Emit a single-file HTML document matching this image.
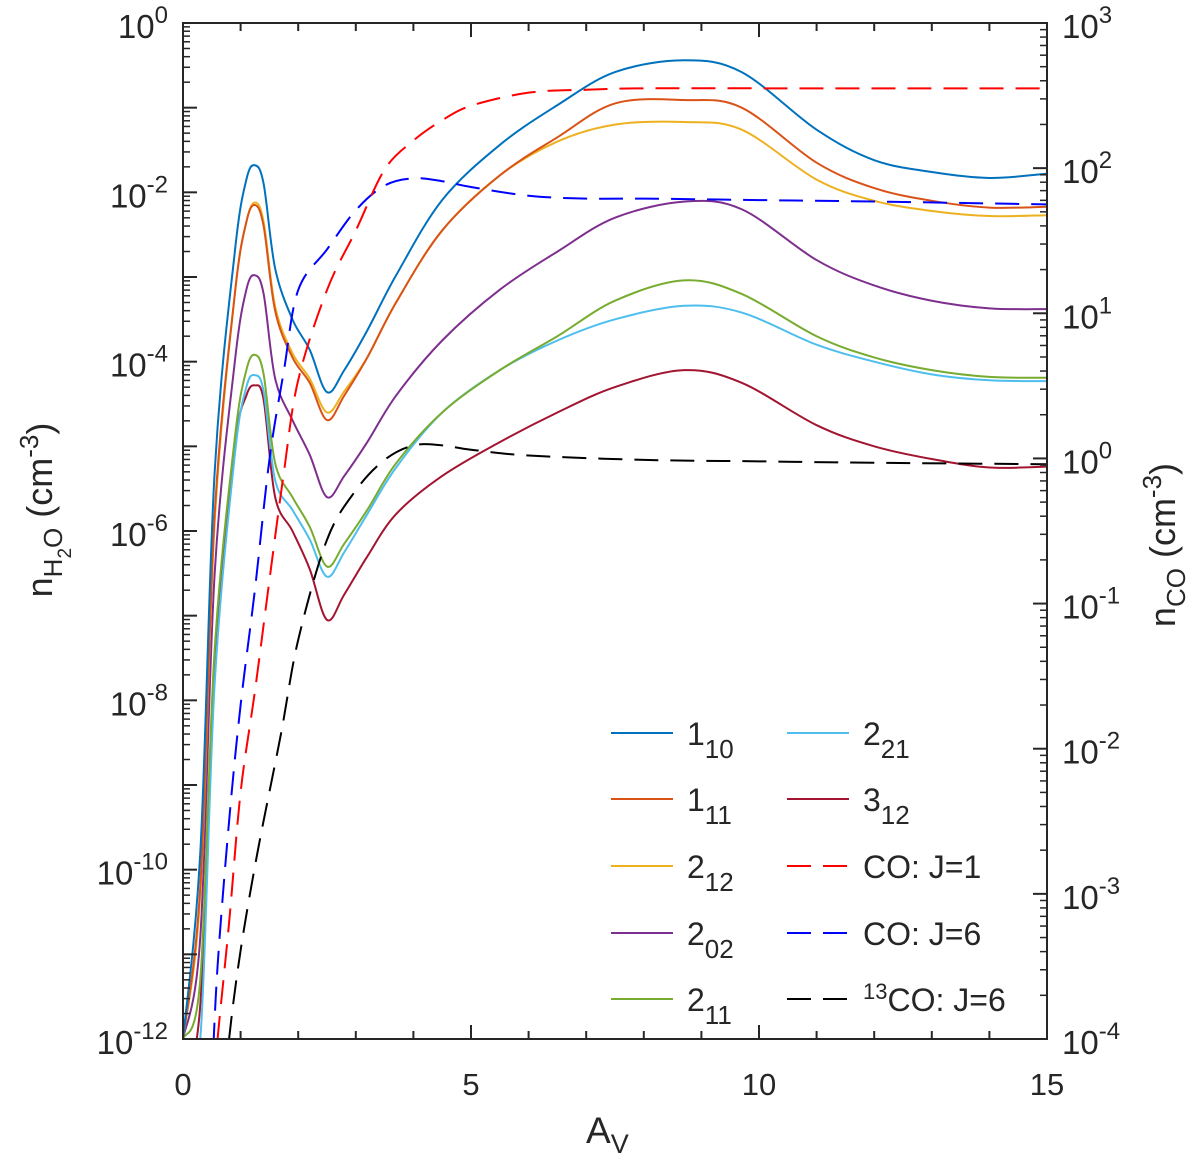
<!DOCTYPE html>
<html><head><meta charset="utf-8"><style>
body{margin:0;background:#fff;}
svg text{font-family:"Liberation Sans",sans-serif;fill:#262626;}
</style></head><body>
<svg id="chart" width="1200" height="1167" viewBox="0 0 1200 1167" xmlns="http://www.w3.org/2000/svg">
<g id="plot"></g>
<g id="axes"></g>
<g id="legend"></g>
</svg>
<script>
// Data (values in log10)
const avGrid = [0,0.3,0.55,0.9,1.1,1.25,1.4,1.6,1.9,2.2,2.5,2.8,3.2,3.7,4.5,5.5,6.5,7.5,8.7,9.7,11,12,13,14,15];
const h2o110 = [-12,-9.8,-5.3,-2.7,-1.85,-1.68,-1.9,-2.9,-3.5,-3.86,-4.36,-4.1,-3.63,-2.98,-2.09,-1.44,-0.97,-0.58,-0.44,-0.58,-1.26,-1.62,-1.76,-1.83,-1.78];
const h2o111 = [-12,-10.2,-5.8,-3.2,-2.35,-2.15,-2.4,-3.4,-3.95,-4.25,-4.69,-4.4,-3.95,-3.3,-2.45,-1.8,-1.35,-0.95,-0.91,-1.0,-1.65,-1.95,-2.1,-2.18,-2.17];
const h2o212 = [-12,-10.3,-5.9,-3.2,-2.35,-2.12,-2.35,-3.35,-3.9,-4.2,-4.6,-4.35,-3.95,-3.3,-2.45,-1.8,-1.4,-1.2,-1.17,-1.26,-1.85,-2.1,-2.22,-2.28,-2.27];
const h2o202 = [-12,-10.8,-6.5,-4.0,-3.15,-2.98,-3.2,-4.2,-4.69,-5.1,-5.6,-5.35,-4.95,-4.4,-3.75,-3.15,-2.7,-2.3,-2.11,-2.2,-2.8,-3.1,-3.28,-3.37,-3.38];
const h2o211 = [-12,-11.3,-7.4,-4.9,-4.1,-3.92,-4.15,-5.2,-5.6,-5.95,-6.42,-6.15,-5.75,-5.2,-4.6,-4.1,-3.7,-3.28,-3.04,-3.2,-3.7,-3.95,-4.1,-4.18,-4.19];
const h2o221 = [-12.5,-12,-7.8,-5.1,-4.3,-4.16,-4.35,-5.4,-5.75,-6.1,-6.54,-6.25,-5.8,-5.25,-4.6,-4.1,-3.75,-3.5,-3.34,-3.42,-3.8,-4.0,-4.15,-4.22,-4.23];
const h2o312 = [-12.5,-11.6,-7.5,-5.0,-4.4,-4.28,-4.45,-5.6,-6.0,-6.45,-7.05,-6.75,-6.3,-5.8,-5.35,-4.95,-4.6,-4.3,-4.1,-4.25,-4.75,-5.0,-5.15,-5.25,-5.24];
const coGrid = [0.5,0.6,0.8,1.0,1.25,1.5,1.75,2,2.5,3,3.5,4,4.5,5,6,7,8,10,12,15];
const co1 = [-4.5,-4,-3.2,-2.3,-1.6,-0.84,-0.1,0.54,1.16,1.57,1.99,2.19,2.33,2.43,2.52,2.54,2.55,2.55,2.55,2.55];
const co6 = [-4.3,-3.5,-2.5,-1.7,-0.9,-0.01,0.6,1.16,1.44,1.71,1.88,1.93,1.91,1.87,1.81,1.79,1.79,1.78,1.77,1.75];
const coGrid13 = [0.7,0.8,1.0,1.3,1.7,2,2.5,3,3.5,4,4.5,5,6,8,10,12,15];
const co13 = [-4.5,-4,-3.39,-2.7,-1.9,-1.25,-0.56,-0.22,-0.01,0.09,0.09,0.06,0.02,-0.01,-0.02,-0.03,-0.04];
const xTicks = [0,5,10,15];
const leftTicks = [0,-2,-4,-6,-8,-10,-12];
const rightTicks = [3,2,1,0,-1,-2,-3,-4];

const L=183,R=1047,T=23,B=1039;
const xs=a=>L+(a/15)*(R-L);
const yl=v=>T+(0-v)/12*(B-T);
const yr=v=>T+(3-v)/7*(B-T);
const NS="http://www.w3.org/2000/svg";
function mk(tag,attrs,parent){const e=document.createElementNS(NS,tag);for(const k in attrs)e.setAttribute(k,attrs[k]);parent.appendChild(e);return e;}
function cr(pts){let d=`M${pts[0][0]},${pts[0][1]}`;for(let i=0;i<pts.length-1;i++){const p0=pts[Math.max(0,i-1)],p1=pts[i],p2=pts[i+1],p3=pts[Math.min(pts.length-1,i+2)];const c1=[p1[0]+(p2[0]-p0[0])/6,p1[1]+(p2[1]-p0[1])/6],c2=[p2[0]-(p3[0]-p1[0])/6,p2[1]-(p3[1]-p1[1])/6];d+=` C${c1[0]},${c1[1]} ${c2[0]},${c2[1]} ${p2[0]},${p2[1]}`;}return d;}
const plot=document.getElementById('plot'),axes=document.getElementById('axes'),leg=document.getElementById('legend');
mk('clipPath',{id:'clip'},plot).appendChild(document.createElementNS(NS,'rect'));
const cp=plot.querySelector('rect');cp.setAttribute('x',L);cp.setAttribute('y',T);cp.setAttribute('width',R-L);cp.setAttribute('height',B-T);
const series=[
 {n:'1',s:'10',g:avGrid,v:h2o110,c:'#0072BD',ax:yl,d:null,name:'line-1-10'},
 {n:'1',s:'11',g:avGrid,v:h2o111,c:'#D95319',ax:yl,d:null,name:'line-1-11'},
 {n:'2',s:'12',g:avGrid,v:h2o212,c:'#EDB120',ax:yl,d:null,name:'line-2-12'},
 {n:'2',s:'02',g:avGrid,v:h2o202,c:'#7E2F8E',ax:yl,d:null,name:'line-2-02'},
 {n:'2',s:'11',g:avGrid,v:h2o211,c:'#77AC30',ax:yl,d:null,name:'line-2-11'},
 {n:'2',s:'21',g:avGrid,v:h2o221,c:'#4DBEEE',ax:yl,d:null,name:'line-2-21'},
 {n:'3',s:'12',g:avGrid,v:h2o312,c:'#A2142F',ax:yl,d:null,name:'line-3-12'},
 {t:'CO: J=1',g:coGrid,v:co1,c:'#FF0000',ax:yr,d:'24 12',name:'line-co-j1'},
 {t:'CO: J=6',g:coGrid,v:co6,c:'#0000FF',ax:yr,d:'24 12',name:'line-co-j6'},
 {t13:true,g:coGrid13,v:co13,c:'#000000',ax:yr,d:'24 12',name:'line-13co-j6'}];
const order=[6,5,4,3,2,1,0,9,8,7];
order.forEach(i=>{const s=series[i];const pts=s.g.map((a,j)=>[xs(a),s.ax(s.v[j])]);
 const p=mk('path',{d:cr(pts),fill:'none',stroke:s.c,'stroke-width':2,'clip-path':'url(#clip)'},plot);
 if(s.d)p.setAttribute('stroke-dasharray',s.d);
 
 });
mk('rect',{x:L,y:T,width:R-L,height:B-T,fill:'none',stroke:'#262626','stroke-width':2},axes);
for(let a=0;a<=15;a++){const x=xs(a),len=a%5===0?14:8;
 mk('line',{x1:x,y1:B,x2:x,y2:B-len,stroke:'#262626','stroke-width':2},axes);
 mk('line',{x1:x,y1:T,x2:x,y2:T+len,stroke:'#262626','stroke-width':2},axes);}
xTicks.forEach(a=>{const t=mk('text',{x:xs(a),y:1095,'text-anchor':'middle','font-size':31},axes);t.textContent=a;
 
 });
for(let d=-12;d<=0;d++){mk('line',{x1:L,y1:yl(d),x2:L+14,y2:yl(d),stroke:'#262626','stroke-width':2},axes);
 if(d<0)for(let m=2;m<=9;m++){const y=yl(d+Math.log10(m));mk('line',{x1:L,y1:y,x2:L+7,y2:y,stroke:'#262626','stroke-width':1.5},axes);}}
for(let d=-4;d<=3;d++){mk('line',{x1:R,y1:yr(d),x2:R-14,y2:yr(d),stroke:'#262626','stroke-width':2},axes);
 if(d<3)for(let m=2;m<=9;m++){const y=yr(d+Math.log10(m));mk('line',{x1:R,y1:y,x2:R-7,y2:y,stroke:'#262626','stroke-width':1.5},axes);}}
leftTicks.forEach(d=>{const t=mk('text',{x:168,y:yl(d)+15,'text-anchor':'end','font-size':33},axes);
 t.innerHTML=`10<tspan dy="-15" font-size="24">${d}</tspan>`;
 
 });
rightTicks.forEach(d=>{const t=mk('text',{x:1062,y:yr(d)+15,'font-size':33},axes);
 t.innerHTML=`10<tspan dy="-15" font-size="24">${d}</tspan>`;
 
 });
let t=mk('text',{x:586,y:1143,'font-size':37},axes);t.innerHTML='A<tspan dy="10" font-size="27">V</tspan>';


t=mk('text',{x:0,y:0,'font-size':36,'text-anchor':'middle',transform:'translate(52,510) rotate(-90)'},axes);
t.innerHTML='n<tspan dy="10" font-size="26">H</tspan><tspan dy="9" font-size="19">2</tspan><tspan dy="-9" font-size="26">O</tspan><tspan dy="-10"> (cm</tspan><tspan dy="-14" font-size="26">-3</tspan><tspan dy="14">)</tspan>';


t=mk('text',{x:0,y:0,'font-size':36,'text-anchor':'middle',transform:'translate(1175,545) rotate(-90)'},axes);
t.innerHTML='n<tspan dy="10" font-size="26">CO</tspan><tspan dy="-10"> (cm</tspan><tspan dy="-14" font-size="26">-3</tspan><tspan dy="14">)</tspan>';


const rows=[733,799,866,933,999];
series.forEach((s,k)=>{const col=k<5?0:1,row=k%5;const x0=col?787:611,y=rows[row];
 const g=mk('g',{},leg);
 
 
 const ln=mk('line',{x1:x0,y1:y,x2:x0+62,y2:y,stroke:s.c,'stroke-width':2},g);
 if(s.d)ln.setAttribute('stroke-dasharray','24 12');
 const tx=mk('text',{x:x0+76,y:y+12,'font-size':32},g);
 if(s.n)tx.innerHTML=`${s.n}<tspan dy="13" font-size="26">${s.s}</tspan>`;
 else if(s.t13)tx.innerHTML='<tspan dy="-12" font-size="22">13</tspan><tspan dy="12">CO: J=6</tspan>';
 else tx.textContent=s.t;});
</script>
</body></html>
